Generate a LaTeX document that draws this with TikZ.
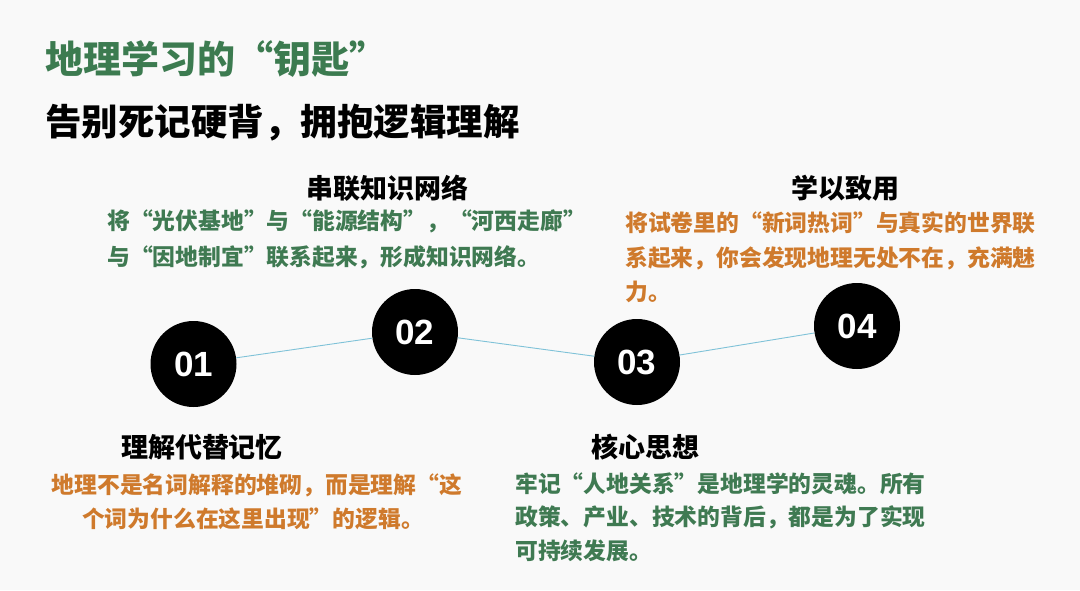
\documentclass[tikz,border=0pt]{standalone}
\usepackage{fontspec}
\setmainfont{Noto Sans CJK SC}[BoldFont={Noto Sans CJK SC Black}]
\newfontfamily\numfont{Liberation Sans}
\definecolor{bgc}{HTML}{F9F9F9}
\definecolor{titlegreen}{HTML}{3C7B50}
\definecolor{bodygreen}{HTML}{3F7A52}
\definecolor{bodyorange}{HTML}{CF7A2C}
\definecolor{linkblue}{HTML}{7FC2D8}
\tikzset{
  numcircle/.style={circle, fill=black, minimum size=86pt, inner sep=0pt, text=white, font=\numfont\bfseries\fontsize{35}{35}\selectfont},
  headtext/.style={anchor=base, inner sep=0pt, font=\bfseries\fontsize{27}{30}\selectfont, text=black},
  bodytext/.style={anchor=base west, inner sep=0pt, font=\bfseries\fontsize{22.8}{30}\selectfont},
  link/.style={draw=linkblue, line width=0.9pt}
}
\begin{document}
\begin{tikzpicture}[x=1pt,y=-1pt]
\fill[bgc] (0,0) rectangle (1080,590);
\useasboundingbox (0,0) rectangle (1080,590);
% title
\node[anchor=base west, inner sep=0pt, text=titlegreen, font=\bfseries\fontsize{38}{40}\selectfont] (title) at (45,73) {地理学习的“钥匙”};
\node[anchor=base west, inner sep=0pt, text=black, font=\bfseries\fontsize{36.5}{40}\selectfont] (subtitle) at (45,135) {告别死记硬背，拥抱逻辑理解};
% circles
\node[numcircle] (c1) at (193.5,364) {01};
\node[numcircle] (c2) at (415,332) {02};
\node[numcircle] (c3) at (637,362) {03};
\node[numcircle] (c4) at (857,326) {04};
\draw[link] (c1) -- (c2);
\draw[link] (c2) -- (c3);
\draw[link] (c3) -- (c4);
% 02
\node[headtext] (h2) at (387.5,198) {串联知识网络};
\node[bodytext, text=bodygreen] (t2a) at (107,229) {将“光伏基地”与“能源结构”，“河西走廊”};
\node[bodytext, text=bodygreen] (t2b) at (107,265) {与“因地制宜”联系起来，形成知识网络。};
% 04
\node[headtext] (h4) at (845,198) {学以致用};
\node[bodytext, text=bodyorange] (t4a) at (625,231) {将试卷里的“新词热词”与真实的世界联};
\node[bodytext, text=bodyorange] (t4b) at (625,266) {系起来，你会发现地理无处不在，充满魅};
\node[bodytext, text=bodyorange] (t4c) at (625,300) {力。};
% 01
\node[headtext] (h1) at (202,457) {理解代替记忆};
\node[anchor=base, inner sep=0pt, text=bodyorange, font=\bfseries\fontsize{22.8}{30}\selectfont] (t1a) at (257,493) {地理不是名词解释的堆砌，而是理解“这};
\node[anchor=base, inner sep=0pt, text=bodyorange, font=\bfseries\fontsize{22.8}{30}\selectfont] (t1b) at (253,527) {个词为什么在这里出现”的逻辑。};
% 03
\node[headtext] (h3) at (645,457) {核心思想};
\node[bodytext, text=bodygreen] (t3a) at (515,492) {牢记“人地关系”是地理学的灵魂。所有};
\node[bodytext, text=bodygreen] (t3b) at (515,525) {政策、产业、技术的背后，都是为了实现};
\node[bodytext, text=bodygreen] (t3c) at (515,559) {可持续发展。};
\end{tikzpicture}
\end{document}
